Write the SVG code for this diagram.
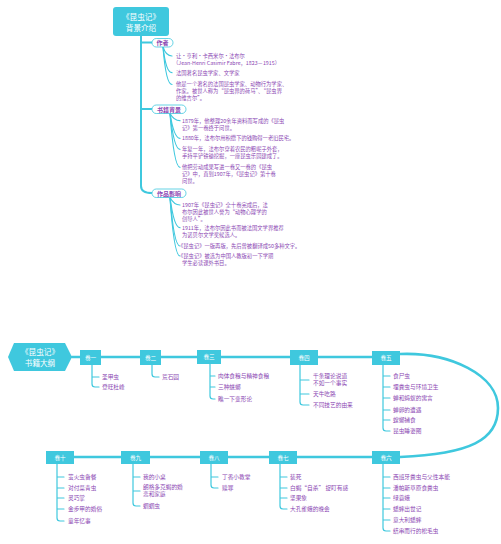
<svg xmlns="http://www.w3.org/2000/svg" width="501" height="544" viewBox="0 0 501 544">
<style>
text{font-family:"Noto Sans CJK SC","Liberation Sans",sans-serif;}
.it{font-size:5.3px;fill:#8B47B3;}
.bi{font-size:5.7px;fill:#8B47B3;}
.pill{fill:#fff;stroke:#3FC8DE;stroke-width:0.8;}
.pt{font-size:6px;fill:#8B47B3;text-anchor:middle;font-weight:bold;}
.box{fill:#3FC8DE;}
.bt{font-size:5.6px;fill:#fff;text-anchor:middle;}
.ht{font-size:7.6px;fill:#fff;text-anchor:middle;}
.c{fill:none;stroke:#3FC8DE;stroke-linecap:round;}
.th{stroke-width:2;}
.tn{stroke-width:1.2;}
.main{stroke-width:2.6;}
</style>
<rect width="501" height="544" fill="#fff"/>
<g id="connectors">
  <path class="c th" d="M141,36 V186 Q141,193 152,193"/>
  <path class="c th" d="M141,42.5 H152"/>
  <path class="c th" d="M141,109 H152"/>
  <path class="c tn" d="M163,47 Q166,56 172,56"/>
  <path class="c tn" d="M163,47 Q166,72.7 172,72.7"/>
  <path class="c tn" d="M163,47 Q166,84.5 172,84.5"/>
  <path class="c tn" d="M170,113.5 Q174,120.7 180,120.7"/>
  <path class="c tn" d="M170,113.5 Q174,138.3 180,138.3"/>
  <path class="c tn" d="M170,113.5 Q174,149.3 180,149.3"/>
  <path class="c tn" d="M170,113.5 Q174,167.3 180,167.3"/>
  <path class="c tn" d="M170,197.5 Q174,205 180,205"/>
  <path class="c tn" d="M170,197.5 Q174,227.7 180,227.7"/>
  <path class="c tn" d="M170,197.5 Q174,246 180,246"/>
  <path class="c tn" d="M170,197.5 Q174,256 180,256"/>
  <path class="c main" d="M72,357 H372"/>
  <path class="c main" d="M400,354 C450,352 498,375 498,408 C498,440 470,454 400,457"/>
  <path class="c main" d="M74,457 H372"/>
  <path class="c tn" d="M92,365 V384 Q92,387 95,387 H99 M92,377 H99"/>
  <path class="c tn" d="M152,365 V374 Q152,377 155,377 H159"/>
  <path class="c tn" d="M210,364 V396 Q210,399 213,399 H215 M210,376 H215 M210,387 H215"/>
  <path class="c tn" d="M300,365 V402 Q300,405 303,405 H309 M300,380 H309 M300,394 H309"/>
  <path class="c tn" d="M383,365 V428 Q383,431 386,431 H390 M383,376 H390 M383,387 H390 M383,398 H390 M383,410 H390 M383,420 H390"/>
  <path class="c tn" d="M57,464 V518 Q57,521 60,521 H64 M57,477 H64 M57,488 H64 M57,498 H64 M57,509 H64"/>
  <path class="c tn" d="M133,464 V503 Q133,506 136,506 H140 M133,477 H140 M133,491 H140"/>
  <path class="c tn" d="M211,464 V485 Q211,488 214,488 H218 M211,477 H218"/>
  <path class="c tn" d="M280,464 V506 Q280,509 283,509 H287 M280,477 H287 M280,488 H287 M280,498 H287"/>
  <path class="c tn" d="M383,464 V528 Q383,531 386,531 H390 M383,477 H390 M383,488 H390 M383,498 H390 M383,509 H390 M383,520 H390"/>
</g>
<g id="title">
  <rect x="113" y="7" width="56" height="29" rx="3" class="box"/>
  <text x="141" y="19.5" class="ht">《昆虫记》</text>
  <text x="141" y="30.5" class="ht">背景介绍</text>
</g>
<g id="author">
  <rect x="152" y="38.5" width="21" height="8.5" rx="4.25" class="pill"/>
  <text x="162.5" y="45" class="pt">作者</text>
  <text x="176" y="58" class="it">让・亨利・卡西米尔・法布尔</text>
  <text x="173" y="64.8" class="it">（Jean-Henri Casimir Fabre，1823－1915）</text>
  <text x="176" y="74.7" class="it">法国著名昆虫学家、文学家</text>
  <text x="176" y="86" class="it">他是一个著名的法国昆虫学家、动物行为学家、</text>
  <text x="176" y="92.8" class="it">作家。被世人称为“昆虫界的荷马”、“昆虫界</text>
  <text x="176" y="99.6" class="it">的维吉尔”。</text>
</g>
<g id="background">
  <rect x="152" y="105" width="34" height="8.5" rx="4.25" class="pill"/>
  <text x="169" y="111.5" class="pt">书籍背景</text>
  <text x="182" y="122.7" class="it">1879年，他整理20余年资料而写成的《昆虫</text>
  <text x="182" y="129.5" class="it">记》第一卷终于问世。</text>
  <text x="182" y="140.3" class="it">1880年，法布尔用积攒下的钱购得一老旧民宅。</text>
  <text x="182" y="151.3" class="it">年复一年，法布尔穿着农民的粗呢子外套，</text>
  <text x="182" y="158.1" class="it">手持平铲铁锄挖掘，一座昆虫乐园建成了。</text>
  <text x="182" y="169.3" class="it">他把劳动成果写进一卷又一卷的《昆虫</text>
  <text x="182" y="176.1" class="it">记》中，直到1907年，《昆虫记》第十卷</text>
  <text x="182" y="182.9" class="it">问世。</text>
</g>
<g id="influence">
  <rect x="152" y="189" width="34" height="8.5" rx="4.25" class="pill"/>
  <text x="169" y="195.5" class="pt">作品影响</text>
  <text x="182" y="207" class="it">1907年《昆虫记》全十卷完成后，法</text>
  <text x="182" y="213.8" class="it">布尔因此被世人誉为“动物心理学的</text>
  <text x="182" y="220.6" class="it">创导人”。</text>
  <text x="182" y="229.7" class="it">1911年，法布尔因此书而被法国文学界推荐</text>
  <text x="182" y="236.5" class="it">为诺贝尔文学奖候选人。</text>
  <text x="178" y="248" class="it">《昆虫记》一版再版，先后曾被翻译成50多种文字。</text>
  <text x="178" y="258" class="it">《昆虫记》被选为中国人教版初一下学期</text>
  <text x="182" y="264.8" class="it">学生必读课外书目。</text>
</g>
<g id="outline">
  <polygon points="8,357 14,343 65,343 72,357 65,371 14,371" class="box"/>
  <text x="40" y="354.5" class="ht">《昆虫记》</text>
  <text x="40" y="365.5" class="ht">书籍大纲</text>
</g>
<g id="v1">
  <rect x="80" y="350" width="21" height="15" class="box"/>
  <text x="90.5" y="359.5" class="bt">卷一</text>
  <text x="102" y="379" class="bi">圣甲虫</text>
  <text x="102" y="389" class="bi">登旺杜峰</text>
</g>
<g id="v2">
  <rect x="140" y="350" width="21" height="15" class="box"/>
  <text x="150.5" y="359.5" class="bt">卷二</text>
  <text x="162" y="379" class="bi">荒石园</text>
</g>
<g id="v3">
  <rect x="197" y="350" width="24" height="14" class="box"/>
  <text x="209" y="359" class="bt">卷三</text>
  <text x="218" y="378" class="bi">肉体食粮与精神食粮</text>
  <text x="218" y="389" class="bi">三种蜣螂</text>
  <text x="218" y="401" class="bi">瞧一下变形论</text>
</g>
<g id="v4">
  <rect x="290" y="350" width="28" height="15" class="box"/>
  <text x="304" y="359.5" class="bt">卷四</text>
  <text x="313" y="377.8" class="bi">千条理论说道</text>
  <text x="313" y="385.4" class="bi">不如一个事实</text>
  <text x="313" y="396" class="bi">天牛吃路</text>
  <text x="313" y="407" class="bi">不同技艺的由来</text>
</g>
<g id="v5">
  <rect x="372" y="351" width="28" height="14" class="box"/>
  <text x="386" y="360" class="bt">卷五</text>
  <text x="393" y="378" class="bi">食尸虫</text>
  <text x="393" y="389" class="bi">埋粪虫与环境卫生</text>
  <text x="393" y="400" class="bi">蝉和蚂蚁的寓言</text>
  <text x="393" y="412" class="bi">蝉卵的遭遇</text>
  <text x="393" y="422" class="bi">螳螂捕食</text>
  <text x="393" y="433" class="bi">昆虫睡姿图</text>
</g>
<g id="v6">
  <rect x="372" y="451" width="28" height="13" class="box"/>
  <text x="386" y="459.5" class="bt">卷六</text>
  <text x="393" y="479" class="bi">西班牙粪虫与父性本能</text>
  <text x="393" y="490" class="bi">潘帕斯草原食粪虫</text>
  <text x="393" y="500" class="bi">绿蓑蛾</text>
  <text x="393" y="511" class="bi">蟋蟀出世记</text>
  <text x="393" y="522" class="bi">意大利蟋蟀</text>
  <text x="393" y="533" class="bi">结串而行的松毛虫</text>
</g>
<g id="v7">
  <rect x="269" y="451" width="28" height="13" class="box"/>
  <text x="283" y="459.5" class="bt">卷七</text>
  <text x="290" y="479" class="bi">装死</text>
  <text x="290" y="490" class="bi">白蝎“自杀” 捉盯有感</text>
  <text x="290" y="500" class="bi">坚果象</text>
  <text x="290" y="511" class="bi">大孔雀蛾的晚会</text>
</g>
<g id="v8">
  <rect x="200" y="451" width="28" height="13" class="box"/>
  <text x="214" y="459.5" class="bt">卷八</text>
  <text x="222" y="479" class="bi">丁香小教堂</text>
  <text x="222" y="490" class="bi">赎罪</text>
</g>
<g id="v9">
  <rect x="121" y="451" width="29" height="13" class="box"/>
  <text x="135.5" y="459.5" class="bt">卷九</text>
  <text x="143" y="479" class="bi">我的小桌</text>
  <text x="143" y="488.6" class="bi">朗格多克蝎的婚</text>
  <text x="143" y="496.2" class="bi">恋和家庭</text>
  <text x="143" y="508" class="bi">蝈蝈虫</text>
</g>
<g id="v10">
  <rect x="46" y="451" width="28" height="13" class="box"/>
  <text x="60" y="459.5" class="bt">卷十</text>
  <text x="68" y="479" class="bi">萤火虫备餐</text>
  <text x="68" y="490" class="bi">对付菜青虫</text>
  <text x="68" y="500" class="bi">灵巧掌</text>
  <text x="68" y="511" class="bi">金步甲的婚俗</text>
  <text x="68" y="523" class="bi">童年忆事</text>
</g>
</svg>
